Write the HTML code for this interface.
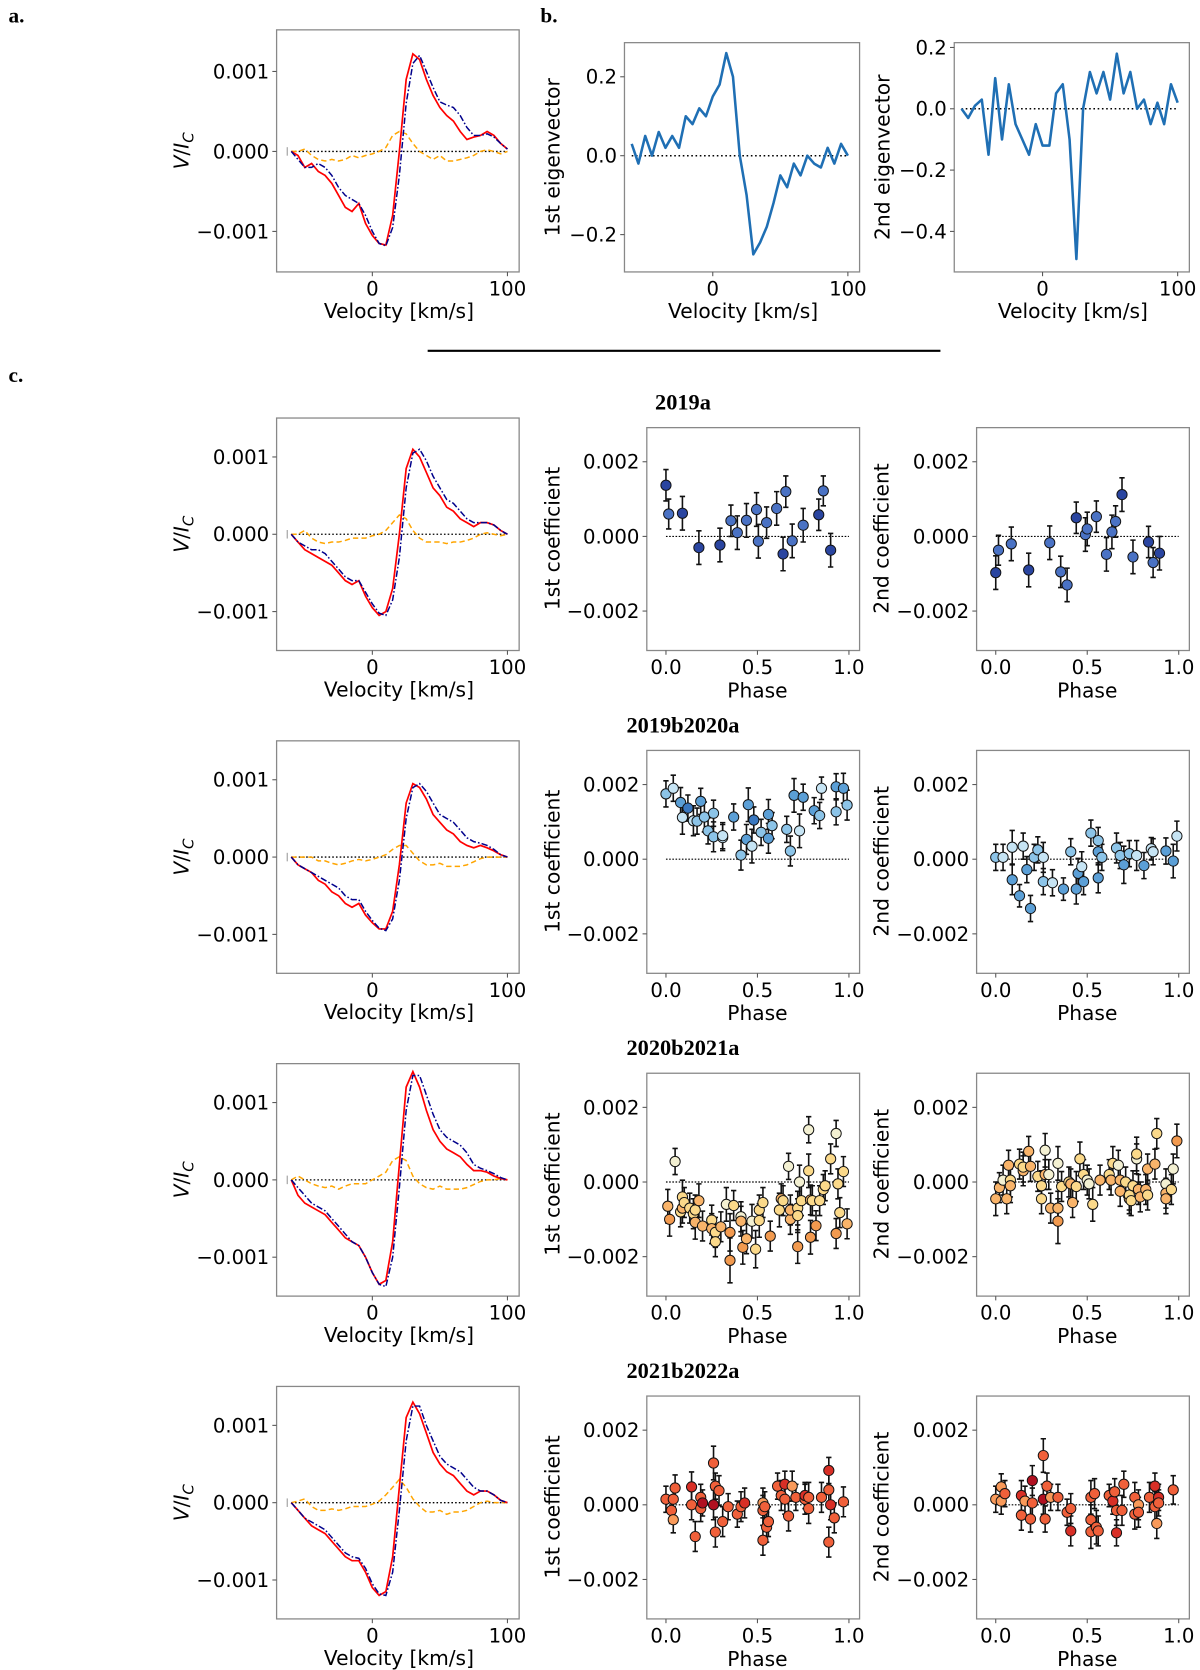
<!DOCTYPE html>
<html><head><meta charset="utf-8">
<style>
html,body{margin:0;padding:0;background:#fff;}
svg{display:block;}
text{font-family:"DejaVu Sans","Liberation Sans",sans-serif;fill:#000;}
.ser{font-family:"Liberation Serif",serif;font-weight:bold;}
</style></head>
<body>
<svg id="fig" width="1200" height="1670" viewBox="0 0 1128 1566" preserveAspectRatio="none" xmlns="http://www.w3.org/2000/svg"></svg>
<script>
// ---------- data ----------
const vel = [-60,-55,-50,-45,-40,-35,-30,-25,-20,-15,-10,-5,0,5,10,15,20,25,30,35,40,45,50,55,60,65,70,75,80,85,90,95,100];
// panel a (units 1e-3)
const aObs = [0,-0.05,-0.2,-0.15,-0.25,-0.3,-0.4,-0.55,-0.7,-0.75,-0.65,-0.9,-1.05,-1.15,-1.17,-0.8,0.0,0.9,1.22,1.15,0.9,0.7,0.55,0.45,0.38,0.25,0.15,0.18,0.2,0.25,0.2,0.1,0.03];
const aMod = [0,-0.1,-0.2,-0.2,-0.15,-0.2,-0.3,-0.45,-0.55,-0.6,-0.65,-0.8,-1.0,-1.15,-1.18,-0.95,-0.3,0.6,1.1,1.2,1.0,0.8,0.62,0.58,0.55,0.45,0.3,0.2,0.2,0.22,0.18,0.1,0.03];
const aRes = [0,0.0,0.03,-0.05,-0.1,-0.12,-0.1,-0.12,-0.1,-0.05,-0.08,-0.05,-0.03,0.0,0.05,0.2,0.25,0.22,0.1,0.0,-0.05,-0.1,-0.05,-0.12,-0.12,-0.1,-0.08,-0.05,0.0,0.02,0.0,-0.03,0];
// eigenvectors
const eig1 = [0.03,-0.02,0.05,0.0,0.06,0.02,0.05,0.02,0.1,0.08,0.12,0.1,0.15,0.18,0.26,0.2,0.0,-0.1,-0.25,-0.22,-0.18,-0.12,-0.05,-0.08,-0.02,-0.05,0.0,-0.02,-0.03,0.02,-0.02,0.03,0.0];
const eig2 = [0.0,-0.03,0.01,0.03,-0.15,0.1,-0.1,0.08,-0.05,-0.1,-0.15,-0.05,-0.12,-0.12,0.05,0.08,-0.1,-0.49,0.0,0.12,0.05,0.12,0.03,0.18,0.05,0.12,0.0,0.03,-0.05,0.02,-0.05,0.08,0.02];
// rows: observed / model / residual (units 1e-3)
const r1Obs = [0,-0.1,-0.2,-0.25,-0.3,-0.35,-0.4,-0.5,-0.6,-0.65,-0.6,-0.8,-0.95,-1.05,-1.0,-0.7,0.0,0.85,1.1,1.0,0.8,0.6,0.5,0.35,0.3,0.2,0.15,0.1,0.15,0.15,0.12,0.05,0];
const r1Mod = [0,-0.1,-0.15,-0.2,-0.2,-0.25,-0.35,-0.45,-0.55,-0.6,-0.6,-0.75,-0.9,-1.02,-1.05,-0.85,-0.3,0.6,1.05,1.1,0.95,0.75,0.6,0.45,0.4,0.3,0.2,0.15,0.15,0.15,0.12,0.05,0];
const r1Res = [0,0.0,0.05,-0.05,-0.1,-0.12,-0.1,-0.1,-0.08,-0.05,-0.05,-0.05,-0.02,0.0,0.05,0.15,0.25,0.2,0.05,-0.05,-0.1,-0.1,-0.1,-0.12,-0.1,-0.1,-0.08,-0.05,0,0.02,0,-0.02,0];
const r2Obs = [0,-0.1,-0.15,-0.2,-0.3,-0.35,-0.45,-0.5,-0.6,-0.65,-0.6,-0.75,-0.85,-0.93,-0.93,-0.7,-0.1,0.7,0.95,0.9,0.75,0.55,0.45,0.35,0.3,0.2,0.15,0.12,0.15,0.12,0.08,0.03,0];
const r2Mod = [0,-0.1,-0.15,-0.2,-0.25,-0.3,-0.35,-0.4,-0.5,-0.55,-0.55,-0.7,-0.82,-0.92,-0.95,-0.8,-0.3,0.5,0.9,0.95,0.85,0.7,0.55,0.5,0.45,0.35,0.25,0.2,0.18,0.15,0.1,0.03,0];
const r2Res = [0,0.0,0.0,0.0,-0.05,-0.05,-0.08,-0.1,-0.08,-0.05,-0.03,-0.05,-0.03,0.0,0.03,0.1,0.15,0.15,0.05,-0.05,-0.1,-0.1,-0.08,-0.12,-0.12,-0.12,-0.1,-0.06,-0.02,0,0,0,0];
const r3Obs = [0,-0.2,-0.3,-0.35,-0.4,-0.45,-0.55,-0.65,-0.75,-0.8,-0.85,-1.0,-1.2,-1.35,-1.3,-0.8,0.2,1.2,1.4,1.2,0.9,0.65,0.5,0.4,0.35,0.3,0.2,0.12,0.12,0.1,0.05,0.02,0];
const r3Mod = [0,-0.1,-0.2,-0.3,-0.35,-0.4,-0.5,-0.6,-0.7,-0.8,-0.85,-1.0,-1.2,-1.35,-1.38,-1.0,-0.1,0.9,1.35,1.35,1.1,0.85,0.65,0.55,0.5,0.45,0.35,0.2,0.15,0.12,0.08,0.03,0];
const r3Res = [0,0.05,0,-0.05,-0.08,-0.1,-0.08,-0.12,-0.08,-0.05,-0.05,-0.05,0,0.05,0.1,0.25,0.3,0.25,0.05,-0.05,-0.1,-0.12,-0.08,-0.12,-0.12,-0.12,-0.1,-0.06,-0.02,0,0,0.02,0];
const r4Obs = [0,-0.1,-0.2,-0.3,-0.35,-0.4,-0.5,-0.6,-0.7,-0.75,-0.75,-0.9,-1.1,-1.2,-1.15,-0.7,0.2,1.1,1.3,1.15,0.9,0.65,0.5,0.4,0.35,0.25,0.15,0.1,0.15,0.15,0.1,0.03,0];
const r4Mod = [0,-0.1,-0.2,-0.25,-0.3,-0.35,-0.45,-0.55,-0.65,-0.7,-0.72,-0.85,-1.05,-1.18,-1.2,-0.9,-0.1,0.8,1.25,1.25,1.0,0.8,0.6,0.5,0.45,0.4,0.3,0.2,0.15,0.15,0.1,0.03,0];
const r4Res = [0,0.02,0.05,-0.05,-0.1,-0.1,-0.08,-0.1,-0.08,-0.05,-0.05,-0.05,-0.02,0.02,0.1,0.2,0.3,0.2,0.05,-0.05,-0.12,-0.12,-0.1,-0.15,-0.12,-0.12,-0.1,-0.05,0,0.02,0,0,0];
const rowTitles = ["2019a","2019b2020a","2020b2021a","2021b2022a"];
// coefficient points: [phase, value(1e-3), error(1e-3), colour index]
const pal1 = ["#2a45a0","#4a72c4"];
const pal2 = ["#c6e4f4","#8cc4e8","#5b9fd6","#3a78c0"];
const pal3 = ["#f3f0d2","#fbd98a","#f9b46a","#f29a4f"];
const pal4 = ["#f99a5a","#f0603a","#d82f26","#b01020"];
const c1a = [[0.0,1.37,0.42,0],[0.015,0.6,0.4,1],[0.09,0.62,0.45,0],[0.18,-0.3,0.45,0],[0.295,-0.23,0.45,0],[0.355,0.42,0.42,1],[0.39,0.1,0.45,1],[0.44,0.43,0.45,1],[0.495,0.72,0.45,1],[0.505,-0.13,0.45,1],[0.55,0.37,0.42,1],[0.605,0.75,0.45,1],[0.64,-0.47,0.45,0],[0.655,1.2,0.42,1],[0.69,-0.12,0.45,1],[0.75,0.3,0.45,1],[0.835,0.58,0.42,0],[0.86,1.22,0.4,1],[0.9,-0.37,0.45,0]];
const c2a = [[0.0,-0.97,0.45,0],[0.015,-0.37,0.4,1],[0.085,-0.2,0.45,1],[0.18,-0.9,0.45,0],[0.295,-0.17,0.45,1],[0.355,-0.95,0.42,1],[0.39,-1.3,0.45,1],[0.44,0.5,0.42,0],[0.49,0.05,0.45,1],[0.5,0.2,0.45,1],[0.55,0.53,0.42,1],[0.605,-0.48,0.45,1],[0.635,0.12,0.45,1],[0.655,0.4,0.42,1],[0.69,1.12,0.45,0],[0.75,-0.55,0.45,1],[0.835,-0.15,0.42,0],[0.86,-0.7,0.4,1],[0.895,-0.45,0.45,0]];
const c1b = [[0.0,1.75,0.35,1],[0.04,1.9,0.35,0],[0.08,1.52,0.4,2],[0.09,1.12,0.45,0],[0.12,1.37,0.35,3],[0.15,1.03,0.4,0],[0.17,1.02,0.35,1],[0.19,1.55,0.35,2],[0.21,1.13,0.4,1],[0.23,0.76,0.35,1],[0.26,0.6,0.4,1],[0.26,1.23,0.35,1],[0.31,0.58,0.35,0],[0.31,0.63,0.35,0],[0.37,1.13,0.35,2],[0.41,0.11,0.4,1],[0.44,0.53,0.4,2],[0.45,1.46,0.45,2],[0.47,0.35,0.45,0],[0.48,1.05,0.35,3],[0.52,0.72,0.35,1],[0.56,1.2,0.4,2],[0.56,0.56,0.4,2],[0.58,0.9,0.35,1],[0.66,0.8,0.35,1],[0.68,0.22,0.4,1],[0.70,1.71,0.45,2],[0.73,0.76,0.45,0],[0.75,1.66,0.35,2],[0.81,1.3,0.35,2],[0.84,1.17,0.35,1],[0.85,1.9,0.3,0],[0.93,1.94,0.35,2],[0.93,1.27,0.35,1],[0.97,1.9,0.4,2],[0.99,1.45,0.4,1]];
const c2b = [[0.0,0.05,0.35,1],[0.04,0.05,0.35,0],[0.09,-0.55,0.4,2],[0.09,0.32,0.45,0],[0.13,-0.98,0.3,2],[0.15,0.35,0.35,0],[0.17,-0.28,0.35,2],[0.19,-1.32,0.35,2],[0.21,0.05,0.35,1],[0.23,0.25,0.35,1],[0.26,0.05,0.4,0],[0.26,-0.6,0.35,1],[0.31,-0.63,0.35,0],[0.37,-0.8,0.3,2],[0.41,0.2,0.35,1],[0.44,-0.8,0.4,2],[0.45,-0.38,0.4,2],[0.47,-0.2,0.4,0],[0.48,-0.6,0.35,2],[0.52,0.7,0.35,1],[0.56,0.5,0.35,1],[0.56,0.2,0.35,2],[0.56,-0.5,0.4,2],[0.58,0.05,0.35,1],[0.66,0.3,0.4,1],[0.68,0.1,0.35,1],[0.70,-0.15,0.5,2],[0.73,0.15,0.35,1],[0.77,0.1,0.4,0],[0.81,-0.17,0.35,2],[0.85,0.28,0.3,0],[0.86,0.2,0.35,0],[0.93,0.22,0.35,2],[0.97,-0.05,0.45,2],[0.99,0.62,0.4,0]];
const c1c = [[0.01,-0.65,0.45,2],[0.02,-1.0,0.45,3],[0.05,0.55,0.35,0],[0.08,-0.8,0.4,1],[0.09,-0.4,0.45,1],[0.09,-0.7,0.4,2],[0.1,-0.55,0.4,1],[0.13,-0.7,0.4,1],[0.15,-0.85,0.4,1],[0.16,-1.08,0.45,2],[0.16,-0.75,0.4,1],[0.18,-0.5,0.45,2],[0.2,-1.18,0.4,2],[0.25,-1.02,0.4,1],[0.25,-1.25,0.4,2],[0.27,-1.35,0.4,1],[0.27,-1.6,0.4,1],[0.3,-1.2,0.4,2],[0.33,-0.6,0.45,0],[0.35,-1.35,0.5,3],[0.35,-2.1,0.6,3],[0.37,-0.63,0.4,1],[0.41,-0.93,0.4,0],[0.41,-1.05,0.4,2],[0.42,-1.75,0.45,3],[0.44,-1.52,0.4,2],[0.47,-1.05,0.45,0],[0.49,-1.8,0.5,1],[0.51,-0.75,0.4,1],[0.51,-1.03,0.45,1],[0.53,-0.55,0.4,1],[0.57,-1.45,0.4,3],[0.62,-0.75,0.45,1],[0.63,-0.45,0.4,2],[0.64,-0.5,0.4,1],[0.67,0.42,0.35,0],[0.68,-1.0,0.4,2],[0.68,-0.75,0.4,2],[0.72,-0.7,0.45,1],[0.72,-0.9,0.45,1],[0.72,-1.73,0.45,3],[0.73,0.0,0.45,0],[0.74,-0.5,0.4,1],[0.78,1.4,0.35,0],[0.78,0.3,0.45,1],[0.79,-0.48,0.4,2],[0.79,-1.48,0.45,3],[0.8,-0.5,0.4,1],[0.82,-1.17,0.4,3],[0.84,-0.5,0.4,1],[0.86,-0.2,0.4,1],[0.87,-0.1,0.4,1],[0.9,0.62,0.4,1],[0.93,1.3,0.35,0],[0.93,-1.38,0.4,3],[0.94,-0.05,0.4,1],[0.95,-0.82,0.4,1],[0.97,0.28,0.4,1],[0.99,-1.12,0.4,2]];
const c2c = [[0.0,-0.45,0.45,2],[0.02,-0.15,0.4,2],[0.04,0.05,0.4,0],[0.06,-0.45,0.4,2],[0.07,0.45,0.4,2],[0.08,0.05,0.45,1],[0.08,-0.1,0.45,2],[0.13,0.48,0.4,1],[0.15,0.3,0.4,2],[0.15,0.4,0.4,1],[0.18,0.82,0.4,2],[0.19,0.42,0.4,2],[0.23,0.15,0.4,1],[0.25,-0.1,0.4,1],[0.25,-0.45,0.4,1],[0.27,0.2,0.4,2],[0.27,0.85,0.45,0],[0.29,0.2,0.4,0],[0.3,-0.7,0.4,2],[0.34,-0.7,0.45,2],[0.34,-1.05,0.6,3],[0.34,0.5,0.45,0],[0.36,-0.12,0.4,1],[0.4,0.0,0.4,1],[0.41,-0.05,0.4,2],[0.42,-0.55,0.4,2],[0.44,-0.12,0.4,1],[0.46,0.62,0.45,1],[0.48,0.2,0.4,1],[0.5,0.05,0.4,0],[0.51,-0.05,0.4,0],[0.53,-0.6,0.45,1],[0.57,0.05,0.4,2],[0.62,0.2,0.4,1],[0.64,0.5,0.45,1],[0.63,0.05,0.4,2],[0.67,0.45,0.4,0],[0.68,-0.25,0.4,2],[0.68,0.05,0.4,2],[0.71,0.0,0.4,1],[0.73,-0.45,0.4,2],[0.73,-0.35,0.4,1],[0.74,-0.5,0.4,1],[0.75,-0.1,0.4,1],[0.77,0.62,0.4,0],[0.77,0.75,0.45,1],[0.78,-0.2,0.4,2],[0.79,-0.4,0.4,2],[0.82,-0.2,0.4,2],[0.83,-0.35,0.4,1],[0.83,0.35,0.4,2],[0.87,0.48,0.4,2],[0.88,1.3,0.4,1],[0.93,-0.05,0.4,0],[0.93,-0.3,0.4,2],[0.93,-0.45,0.4,2],[0.96,-0.2,0.4,1],[0.97,0.35,0.4,0],[0.99,1.1,0.45,3]];
const c1d = [[0.0,0.15,0.35,1],[0.03,-0.15,0.35,1],[0.04,-0.4,0.35,0],[0.04,0.15,0.35,1],[0.05,0.45,0.35,1],[0.14,0.48,0.4,2],[0.14,0.0,0.4,1],[0.16,-0.85,0.4,1],[0.19,0.2,0.35,1],[0.19,-0.1,0.35,1],[0.2,0.05,0.35,3],[0.26,1.12,0.45,1],[0.26,0.0,0.4,3],[0.27,-0.73,0.4,1],[0.27,0.5,0.35,1],[0.29,0.38,0.4,1],[0.31,-0.45,0.4,1],[0.34,-0.05,0.35,1],[0.39,-0.25,0.35,1],[0.41,-0.05,0.4,1],[0.43,0.05,0.4,2],[0.53,0.05,0.4,0],[0.53,-0.15,0.4,1],[0.53,-0.95,0.4,1],[0.54,-0.05,0.4,1],[0.55,-0.6,0.4,1],[0.56,-0.45,0.4,1],[0.61,0.5,0.35,1],[0.63,0.25,0.4,1],[0.65,0.15,0.4,1],[0.65,0.55,0.35,2],[0.67,-0.3,0.4,1],[0.69,0.5,0.4,0],[0.71,0.2,0.35,1],[0.76,0.15,0.4,1],[0.76,0.25,0.35,2],[0.78,0.2,0.4,1],[0.78,-0.1,0.4,1],[0.85,0.2,0.4,1],[0.89,0.92,0.35,2],[0.89,0.4,0.45,1],[0.89,-1.0,0.4,1],[0.9,0.0,0.4,2],[0.92,-0.35,0.4,1],[0.97,0.08,0.4,1]];
const c2d = [[0.0,0.15,0.35,0],[0.03,0.48,0.35,0],[0.03,0.1,0.35,0],[0.05,0.3,0.35,1],[0.14,0.25,0.4,2],[0.14,-0.28,0.4,1],[0.16,0.1,0.4,0],[0.19,-0.38,0.35,1],[0.2,0.05,0.4,1],[0.2,0.65,0.4,3],[0.26,1.32,0.45,1],[0.26,0.15,0.4,3],[0.27,-0.38,0.35,1],[0.28,0.5,0.35,1],[0.3,0.2,0.35,0],[0.34,0.2,0.35,1],[0.39,-0.2,0.35,1],[0.41,-0.1,0.4,1],[0.41,-0.7,0.4,2],[0.52,0.2,0.45,1],[0.52,-0.4,0.4,1],[0.52,-0.72,0.45,1],[0.54,0.3,0.4,1],[0.55,-0.6,0.45,1],[0.56,-0.7,0.4,1],[0.62,0.25,0.3,1],[0.64,0.1,0.35,2],[0.65,0.35,0.35,1],[0.66,-0.15,0.4,1],[0.66,-0.75,0.35,2],[0.69,-0.15,0.4,1],[0.7,0.55,0.35,1],[0.76,0.2,0.4,1],[0.76,-0.25,0.4,1],[0.78,0.0,0.4,0],[0.78,-0.2,0.4,1],[0.84,0.2,0.4,1],[0.87,0.5,0.35,2],[0.87,-0.05,0.4,1],[0.88,-0.5,0.4,0],[0.89,0.2,0.35,2],[0.89,0.05,0.35,1],[0.97,0.4,0.38,1]];

// ---------- drawing ----------
const NS = "http://www.w3.org/2000/svg";
const svg = document.getElementById("fig");
function el(tag, attrs, parent){
  const e = document.createElementNS(NS, tag);
  for (const k in attrs) e.setAttribute(k, attrs[k]);
  (parent||svg).appendChild(e);
  return e;
}
function txt(s, x, y, opts, parent){
  const t = el("text", Object.assign({x:x, y:y, "font-size":18.5}, opts||{}), parent);
  t.textContent = s;
  return t;
}
function linMap(d0,p0,d1,p1){ return v => p0 + (v-d0)*(p1-p0)/(d1-d0); }

function axesFrame(g, box, name){
  const r = el("rect",{x:box[0],y:box[1],width:box[2]-box[0],height:box[3]-box[1],fill:"none",stroke:"#888","stroke-width":1.2}, g);
  
  
}
function yTicks(g, box, ys, vals, labels, name){
  vals.forEach((v,i)=>{
    const y = ys(v);
    el("line",{x1:box[0]-4,x2:box[0],y1:y,y2:y,stroke:"#555","stroke-width":1}, g);
    const t = txt(labels[i], box[0]-7, y+6.5, {"text-anchor":"end"}, g);
    
    
  });
}
function xTicks(g, box, xs, vals, labels, name){
  vals.forEach((v,i)=>{
    const x = xs(v);
    el("line",{x1:x,x2:x,y1:box[3],y2:box[3]+4,stroke:"#555","stroke-width":1}, g);
    const t = txt(labels[i], x, box[3]+22, {"text-anchor":"middle"}, g);
    
    
  });
}
function yLabel(g, s, x, y, name, html){
  const t = el("text",{x:0,y:0,"font-size":19,"text-anchor":"middle",transform:`translate(${x},${y}) rotate(-90)`}, g);
  if (html) t.innerHTML = html; else t.textContent = s;
  
  
}
function poly(g, xs, ys, xv, yv, style, name){
  const pts = xv.map((v,i)=> xs(v).toFixed(1)+","+ys(yv[i]).toFixed(1)).join(" ");
  const p = el("polyline", Object.assign({points:pts, fill:"none"}, style), g);
  
  
}

function stokesPanel(box, x0p, x100p, zeroY, perUnit, obs, mod, res, name){
  const g = el("g",{});
  
  
  const xs = linMap(0,x0p,100,x100p);
  const ys = v => zeroY - perUnit*v;
  axesFrame(g, box, name);
  yTicks(g, box, ys, [-1,0,1], ["\u22120.001","0.000","0.001"], name);
  xTicks(g, box, xs, [0,100], ["0","100"], name);
  el("line",{x1:box[0]+10,x2:box[0]+10,y1:zeroY-4,y2:zeroY+4,stroke:"#999","stroke-width":1}, g);
  el("line",{x1:xs(vel[0]),x2:xs(vel[vel.length-1]),y1:zeroY,y2:zeroY,stroke:"#000","stroke-width":1.2,"stroke-dasharray":"1.5,2"}, g);
  poly(g, xs, ys, vel, res, {stroke:"#ffa500","stroke-width":1.4,"stroke-dasharray":"5,3"}, name+'-residual-line');
  poly(g, xs, ys, vel, obs, {stroke:"#ff0000","stroke-width":1.6}, name+'-observed-line');
  poly(g, xs, ys, vel, mod, {stroke:"#00008b","stroke-width":1.4,"stroke-dasharray":"6,2,1.5,2"}, name+'-model-line');
  const xl = txt("Velocity [km/s]", (box[0]+box[2])/2+1, box[3]+43, {"text-anchor":"middle","font-size":19}, g);
  
  
  yLabel(g, "", 177, (box[1]+box[3])/2, name+'-y-axis-title', '<tspan font-style="italic">V</tspan>/<tspan font-style="italic">I</tspan><tspan font-style="italic" font-size="14" dy="5">C</tspan>');
}

function eigPanel(box, x0p, x100p, ys, vals, ticks, labels, ylab, ylx, name){
  const g = el("g",{});
  
  
  const xs = linMap(0,x0p,100,x100p);
  axesFrame(g, box, name);
  yTicks(g, box, ys, ticks, labels, name);
  xTicks(g, box, xs, [0,100], ["0","100"], name);
  el("line",{x1:xs(vel[0]),x2:xs(vel[vel.length-1]),y1:ys(0),y2:ys(0),stroke:"#000","stroke-width":1.4,"stroke-dasharray":"1.5,2.5"}, g);
  poly(g, xs, ys, vel, vals, {stroke:"#1f6fb4","stroke-width":2.4,"stroke-linejoin":"round"}, name+'-line');
  const xl = txt("Velocity [km/s]", (box[0]+box[2])/2+1, box[3]+43, {"text-anchor":"middle","font-size":19}, g);
  
  
  yLabel(g, ylab, ylx, (box[1]+box[3])/2, name+'-y-axis-title');
}

function coefPanel(box, x0p, off, pts, pal, ylab, ylx, name){
  const g = el("g",{});
  
  
  const xs = linMap(0,x0p,1,x0p+172);
  const ys = v => 503 + off - 35*v;
  axesFrame(g, box, name);
  yTicks(g, box, ys, [-2,0,2], ["\u22120.002","0.000","0.002"], name);
  xTicks(g, box, xs, [0,0.5,1], ["0.0","0.5","1.0"], name);
  el("line",{x1:xs(0),x2:xs(1),y1:ys(0),y2:ys(0),stroke:"#000","stroke-width":1.1,"stroke-dasharray":"1.5,1.5"}, g);
  pts.forEach(p=>{
    const x = xs(p[0]);
    const e1 = el("path",{d:`M${x},${ys(p[1]-p[2])}V${ys(p[1]+p[2])}M${x-2.5},${ys(p[1]-p[2])}h5M${x-2.5},${ys(p[1]+p[2])}h5`,stroke:"#111","stroke-width":1.5,fill:"none"}, g);
    
    
  });
  pts.forEach(p=>{
    const c = el("circle",{cx:xs(p[0]),cy:ys(p[1]),r:4.8,fill:pal[p[3]],stroke:"#111","stroke-width":0.9}, g);
    
    
  });
  const xl = txt("Phase", (box[0]+box[2])/2+4, box[3]+44, {"text-anchor":"middle","font-size":19}, g);
  
  
  yLabel(g, ylab, ylx, 505+off, name+'-y-axis-title');
}

// panel labels
[["a.",8,21],["b.",508,21],["c.",8,358]].forEach(d=>{
  const t = txt(d[0], d[1], d[2], {"class":"ser","font-size":20});
  
  
});

stokesPanel([260,28,488,255], 350, 477, 142, 75, aObs, aMod, aRes, 'panel-a-stokes-v');
eigPanel([587,40,808,255], 670, 797, v=>146-370*v, eig1, [-0.2,0,0.2], ["\u22120.2","0.0","0.2"], "1st eigenvector", 526, 'panel-b-eigenvector-1');
eigPanel([897,40,1118,255], 980, 1107, v=>102-287.5*v, eig2, [-0.4,-0.2,0,0.2], ["\u22120.4","\u22120.2","0.0","0.2"], "2nd eigenvector", 836, 'panel-b-eigenvector-2');

const sep = el("line",{x1:402,x2:884,y1:329,y2:329,stroke:"#000","stroke-width":2});



const rowsObs = [r1Obs,r2Obs,r3Obs,r4Obs], rowsMod=[r1Mod,r2Mod,r3Mod,r4Mod], rowsRes=[r1Res,r2Res,r3Res,r4Res];
const rowsC1 = [c1a,c1b,c1c,c1d], rowsC2=[c2a,c2b,c2c,c2d], pals=[pal1,pal2,pal3,pal4];
for (let k=0;k<4;k++){
  const off = 302.7*k;
  const tt = txt(rowTitles[k], 642, 384+off, {"class":"ser","font-size":21,"text-anchor":"middle"});
  
  
  stokesPanel([260,392+off,488,610+off], 350, 477, 501+off, 72.5, rowsObs[k], rowsMod[k], rowsRes[k], 'stokes-v-'+rowTitles[k]);
  coefPanel([608,401+off,808,610+off], 626, off, rowsC1[k], pals[k], "1st coefficient", 526, 'coef1-'+rowTitles[k]);
  coefPanel([918,401+off,1118,610+off], 936, off, rowsC2[k], pals[k], "2nd coefficient", 835, 'coef2-'+rowTitles[k]);
}
</script>
</body></html>
